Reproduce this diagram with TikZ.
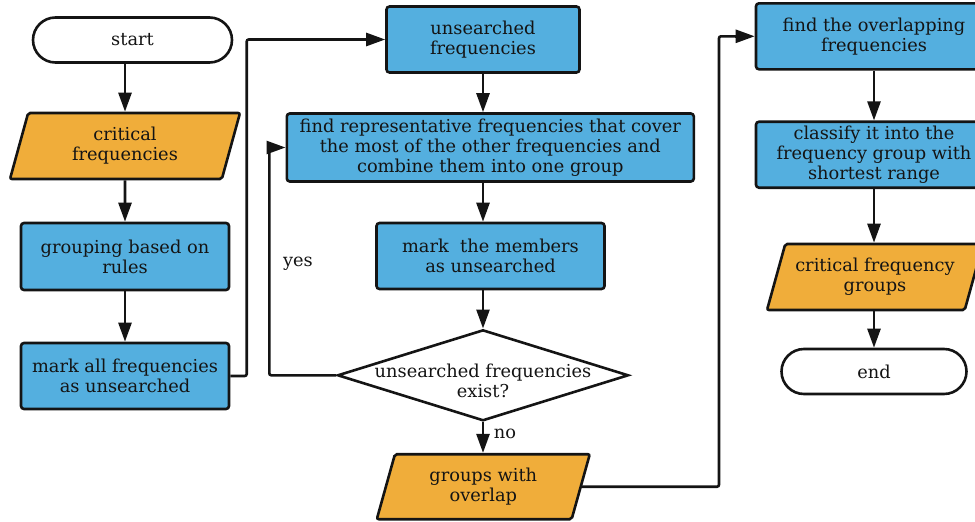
\documentclass[tikz,border=0pt]{standalone}
\usepackage{fontspec}
\setmainfont{DejaVu Serif}
\usetikzlibrary{shapes.geometric,shapes.misc,arrows.meta}

\definecolor{procblue}{RGB}{84,175,223}
\definecolor{ioorange}{RGB}{240,173,58}
\definecolor{inkline}{RGB}{20,20,20}

\tikzset{
  every node/.style={font=\fontsize{17.8}{20}\selectfont, text=inkline},
  base/.style={draw=inkline, line width=2.6pt, align=center, inner sep=0pt},
  terminal/.style={base, rounded rectangle, fill=white},
  procbox/.style={base, rectangle, rounded corners=3pt, fill=procblue},
  iobox/.style={base, trapezium, trapezium left angle=64, trapezium right angle=116,
    trapezium stretches body, fill=ioorange, rounded corners=2pt},
  decision/.style={base, diamond, fill=white},
  flow/.style={draw=inkline, line width=2.6pt,
    -{Triangle[length=19pt,width=13pt]}},
  link/.style={draw=inkline, line width=2.6pt, rounded corners=2pt},
  tag/.style={inner sep=0pt}
}

\begin{document}
\begin{tikzpicture}[x=1pt,y=-1pt]
\clip (0,0) rectangle (975,522);
\useasboundingbox (0,0) rectangle (975,522);

% left column
\node[terminal, minimum width=199pt, minimum height=45pt] (start) at (132.5,40) {start};
\node[iobox, minimum width=230pt, minimum height=66pt] (crit) at (125,146) {critical\\frequencies};
\node[procbox, minimum width=208pt, minimum height=67pt] (grp) at (125,256.5) {grouping based on\\rules};
\node[procbox, minimum width=208pt, minimum height=66pt] (markall) at (125,376) {mark all frequencies\\as unsearched};

% middle column
\node[procbox, minimum width=193pt, minimum height=66pt] (unsr) at (483,39.5) {unsearched\\frequencies};
\node[procbox, minimum width=407pt, minimum height=68pt] (findrep) at (490.3,147.5)
  {find representative frequencies that cover\\the most of the other frequencies and\\combine them into one group};
\node[procbox, minimum width=228pt, minimum height=66pt] (markmem) at (490.5,256) {mark\ \ the members\\as unsearched};
\node[decision, minimum width=291pt, minimum height=91pt] (dec) at (483,375.3) {};
\node[tag, align=center] (dectext) at (483,381) {unsearched frequencies\\exist?};
\node[iobox, minimum width=213pt, minimum height=65pt] (ovl) at (483.3,486.7) {groups with\\overlap};

% right column
\node[procbox, minimum width=236pt, minimum height=66pt] (findov) at (874,36.3) {find the overlapping\\frequencies};
\node[procbox, minimum width=236pt, minimum height=66pt] (cls) at (874,154.7) {classify it into the\\frequency group with\\shortest range};
\node[iobox, minimum width=216pt, minimum height=66pt] (cfg) at (875,277) {critical frequency\\groups};
\node[terminal, minimum width=185pt, minimum height=45pt] (end) at (874,371.5) {end};

% branch labels
\node[tag] (yes) at (298,264) {yes};
\node[tag] (no) at (505,434) {no};

% routing points
\coordinate (busA) at (246.7,0);
\coordinate (busB) at (269.3,0);
\coordinate (busC) at (719,0);

% straight flow
\draw[flow] (start.south -| crit.north) -- (crit.north);
\draw[flow] (crit.south) -- (grp.north);
\draw[flow] (grp.south) -- (markall.north);
\draw[flow] (unsr.south) -- (unsr.south |- findrep.north);
\draw[flow] (findrep.south -| dec.north) -- (markmem.north -| dec.north);
\draw[flow] (markmem.south -| dec.north) -- (dec.north);
\draw[flow] (dec.south) -- (ovl.north -| dec.south);
\draw[flow] (findov.south) -- (cls.north);
\draw[flow] (cls.south) -- (cls.south |- cfg.north);
\draw[flow] (cfg.south -| end.north) -- (end.north);

% routed connectors
\draw[link] (markall.east) -- (markall.east -| busA) |- ([xshift=-19pt]unsr.west);
\draw[flow] ([xshift=-20pt]unsr.west) -- (unsr.west);
\draw[link] (dec.west) -- (dec.west -| busB) |- ([xshift=-16pt]findrep.west);
\draw[flow] ([xshift=-17pt]findrep.west) -- (findrep.west);
\draw[link] (ovl.east) -- (ovl.east -| busC) |- ([xshift=-19pt]findov.west);
\draw[flow] ([xshift=-20pt]findov.west) -- (findov.west);
\end{tikzpicture}
\end{document}
